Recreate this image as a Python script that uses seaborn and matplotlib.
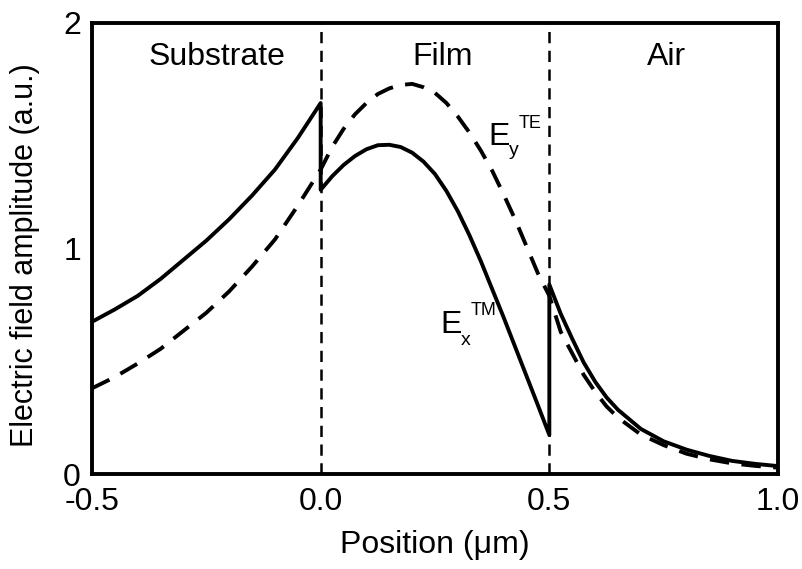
import matplotlib
matplotlib.use("Agg")
import matplotlib.pyplot as plt
import seaborn as sns
import pandas as pd

# Data
tm_x = [-0.5, -0.45, -0.4, -0.35, -0.3, -0.25, -0.2, -0.15, -0.1, -0.05, 0.0,
        0.0, 0.025, 0.05, 0.075, 0.1, 0.125, 0.15, 0.175, 0.2, 0.225, 0.25, 0.275,
        0.3, 0.325, 0.35, 0.375, 0.4, 0.425, 0.45, 0.475, 0.5,
        0.5, 0.525, 0.55, 0.575, 0.6, 0.625, 0.65, 0.7, 0.75, 0.8, 0.85, 0.9, 0.95, 1.0]
tm_y = [0.675, 0.73, 0.79, 0.865, 0.95, 1.035, 1.13, 1.235, 1.35, 1.49, 1.645,
        1.26, 1.32, 1.37, 1.41, 1.44, 1.458, 1.46, 1.45, 1.425, 1.385, 1.33, 1.255,
        1.165, 1.06, 0.945, 0.82, 0.695, 0.565, 0.435, 0.305, 0.173,
        0.84, 0.71, 0.60, 0.495, 0.41, 0.34, 0.285, 0.20, 0.145, 0.108, 0.08, 0.058, 0.045, 0.035]

te_x = [-0.5, -0.45, -0.4, -0.35, -0.3, -0.25, -0.2, -0.15, -0.1, -0.05, 0.0,
        0.025, 0.05, 0.075, 0.1, 0.125, 0.15, 0.175, 0.2, 0.225, 0.25, 0.275,
        0.3, 0.325, 0.35, 0.375, 0.4, 0.425, 0.45, 0.475, 0.5,
        0.525, 0.55, 0.575, 0.6, 0.625, 0.65, 0.7, 0.75, 0.8, 0.85, 0.9, 0.95, 1.0]
te_y = [0.38, 0.43, 0.49, 0.555, 0.635, 0.715, 0.81, 0.92, 1.04, 1.19, 1.35,
        1.45, 1.53, 1.595, 1.645, 1.685, 1.71, 1.725, 1.73, 1.715, 1.69, 1.645,
        1.585, 1.515, 1.435, 1.345, 1.24, 1.13, 1.01, 0.89, 0.79,
        0.63, 0.535, 0.44, 0.365, 0.30, 0.25, 0.175, 0.128, 0.09, 0.065, 0.047, 0.036, 0.028]

interfaces = [0.0, 0.5]
region_labels = ["Substrate", "Film", "Air"]
region_x = [-0.227, 0.267, 0.757]
x_ticks = [-0.5, 0.0, 0.5, 1.0]
x_ticklabels = ["-0.5", "0.0", "0.5", "1.0"]
y_ticks = [0, 1, 2]

sns.set_theme(style="white")
plt.rcParams["font.family"] = ["Liberation Sans", "DejaVu Sans"]
for k in ["text.color", "axes.labelcolor", "xtick.color", "ytick.color"]:
    plt.rcParams[k] = "black"

fig = plt.figure(figsize=(8.03, 5.69), dpi=100)
ax = fig.add_axes([92 / 803, 1 - 474 / 569, (778 - 92) / 803, (474 - 23) / 569])

df_tm = pd.DataFrame({"x": tm_x, "y": tm_y})
df_te = pd.DataFrame({"x": te_x, "y": te_y})

sns.lineplot(data=df_tm, x="x", y="y", ax=ax, estimator=None, sort=False,
             color="black", lw=2.8)
sns.lineplot(data=df_te, x="x", y="y", ax=ax, estimator=None, sort=False,
             color="black", lw=2.8, linestyle=(0, (5.0, 3.2)))

for xi in interfaces:
    ax.axvline(xi, color="black", lw=1.8, linestyle=(0, (4.5, 3)))

ax.set_xlim(-0.5, 1.0)
ax.set_ylim(0, 2)
ax.set_xticks(x_ticks)
ax.set_xticklabels(x_ticklabels)
ax.set_yticks(y_ticks)
ax.tick_params(axis="both", length=0, labelsize=23, colors="black")
ax.tick_params(axis="x", pad=9)
ax.tick_params(axis="y", pad=8)
for s in ax.spines.values():
    s.set_linewidth(2.8)
    s.set_color("black")

ax.set_xlabel("Position (\u03bcm)", fontsize=23)
ax.xaxis.set_label_coords(0.5, -0.125)
ax.set_ylabel("Electric field amplitude (a.u.)", fontsize=22)
ax.yaxis.set_label_coords(-0.076, 0.485)

for lab, xr in zip(region_labels, region_x):
    ax.text(xr, 1.85, lab, ha="center", va="center", fontsize=23)

# E_y^TE label
ax.text(0.366, 1.459, "E", fontsize=23, ha="left", va="baseline")
ax.text(0.411, 1.415, "y", fontsize=14, ha="left", va="baseline")
ax.text(0.433, 1.534, "TE", fontsize=13, ha="left", va="baseline")
# E_x^TM label
ax.text(0.261, 0.625, "E", fontsize=23, ha="left", va="baseline")
ax.text(0.306, 0.572, "x", fontsize=14, ha="left", va="baseline")
ax.text(0.328, 0.705, "TM", fontsize=13, ha="left", va="baseline")

fig.savefig("out.png", dpi=100)
